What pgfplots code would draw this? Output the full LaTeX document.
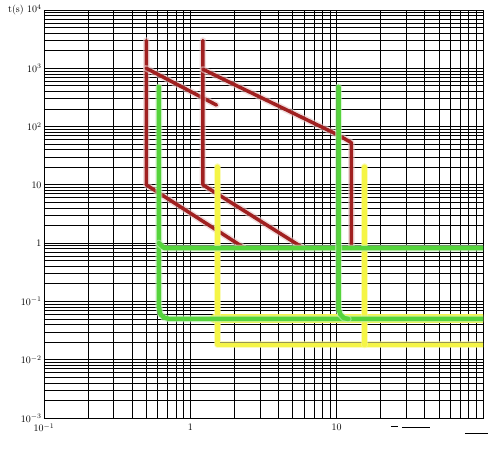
\documentclass[border=0pt]{standalone}
\usepackage{pgfplots}
\pgfplotsset{compat=1.18}
\definecolor{cred}{RGB}{160,32,32}
\definecolor{cgreen}{RGB}{85,212,60}
\definecolor{cyellow}{RGB}{245,245,70}
\begin{document}
\begin{tikzpicture}
\begin{loglogaxis}[
  name=main,
  scale only axis, width=439bp, height=408bp,
  xmin=0.1, xmax=100, ymin=1e-3, ymax=1e4,
  clip mode=individual,
  xtick={0.1,1,10,100}, xticklabels={$10^{-1}$,1,10,{}},
  ytick={1e-3,1e-2,1e-1,1,10,100,1000,10000},
  yticklabels={$10^{-3}$,$10^{-2}$,$10^{-1}$,1,10,$10^{2}$,$10^{3}$,{t(s)\ $10^{4}$}},
  grid=both,
  major grid style={black, line width=0.8bp},
  minor grid style={black, line width=0.8bp},
  major tick length=0pt, minor tick length=0pt,
  axis line style={black, line width=0.8bp},
  tick label style={font=\normalsize},
  yticklabel style={xshift=1bp},
  xticklabel style={yshift=-2bp},
  redl/.style={cred, line width=3.5bp, line join=round, line cap=round,
     preaction={draw, cred!25, line width=6.5bp, opacity=0.6}},
  greenl/.style={cgreen, line width=4.5bp, line join=round, line cap=round,
     preaction={draw, cgreen!35, line width=7bp, opacity=0.6}},
  yell/.style={cyellow, line width=4.5bp, line join=round, line cap=round,
     preaction={draw, cyellow!60, line width=7bp, opacity=0.6}},
]
% red curve 1
\addplot[redl] coordinates {(0.5,3000) (0.5,10) (2.3,0.85)};
\addplot[redl] coordinates {(0.5,1000) (1.51,234)};
% red curve 2
\addplot[redl] coordinates {(1.22,3000) (1.22,10) (5.8,0.85)};
\addplot[redl] coordinates {(1.22,960) (10.2,72) (12.6,53) (12.6,0.85)};
% yellow
\addplot[yell, line width=9bp] coordinates {(1.45,0.05) (100,0.05)};
\addplot[yell] coordinates {(1.53,20.5) (1.53,0.018) (100,0.018)};
\addplot[yell] coordinates {(15.5,20.5) (15.5,0.018)};
% green
\addplot[greenl] coordinates {(0.61,480) (0.61,0.08) (0.625,0.06) (0.66,0.053) (0.72,0.05) (100,0.05)};
\addplot[greenl] coordinates {(0.61,1.0) (0.665,0.82) (100,0.82)};
\addplot[greenl] coordinates {(10.3,480) (10.3,0.075) (10.6,0.06) (11.2,0.052) (12,0.05)};
% stray marks at bottom right
\node[inner sep=0pt] at (rel axis cs:0.798,-0.0196) {\rule{7bp}{0.9bp}};
\node[inner sep=0pt] at (rel axis cs:0.847,-0.022) {\rule{28bp}{0.9bp}};
\node[inner sep=0pt] at (rel axis cs:0.985,-0.0368) {\rule{23bp}{0.9bp}};
\end{loglogaxis}
\path ([shift={(-44bp,-36bp)}]main.south west) rectangle ([shift={(20bp,10bp)}]main.north east);
\end{tikzpicture}
\end{document}
